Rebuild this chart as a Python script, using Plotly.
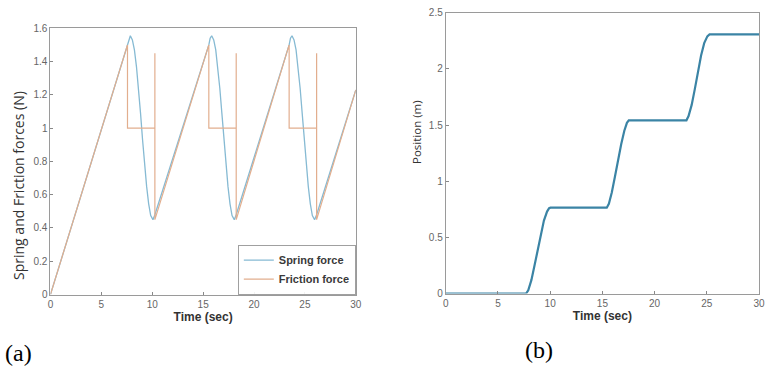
import plotly.graph_objects as go
from plotly.subplots import make_subplots

# ---------------- data ----------------
# (a) friction force: stick ramps, drop to kinetic level, spike at re-stick
friction_t = [0, 7.57, 7.57, 10.26, 10.26, 10.26, 15.56, 15.56, 18.25, 18.25, 18.25,
              23.45, 23.45, 26.15, 26.15, 26.15, 30]
friction_f = [0, 1.50, 1.00, 1.00, 1.45, 0.45, 1.50, 1.00, 1.00, 1.45, 0.45,
              1.50, 1.00, 1.00, 1.45, 0.45, 1.23]

# (a) spring force, sampled along the curve
spring_t = [0, 7.57, 7.70, 7.85, 8.05, 8.25, 8.45, 8.65, 8.85, 9.05, 9.25, 9.45, 9.65, 9.85, 10.07,
            10.26, 15.56, 15.69, 15.84, 16.04, 16.24, 16.44, 16.64, 16.84, 17.04, 17.24, 17.44,
            17.64, 17.84, 18.06, 18.25, 23.45, 23.58, 23.73, 23.93, 24.13, 24.33, 24.53, 24.73,
            24.93, 25.13, 25.33, 25.53, 25.73, 25.95, 26.15, 30]
spring_f = [0, 1.50, 1.54, 1.555, 1.53, 1.47, 1.37, 1.24, 1.09, 0.93, 0.78, 0.65, 0.545, 0.475, 0.45,
            0.48, 1.50, 1.54, 1.555, 1.53, 1.47, 1.37, 1.24, 1.09, 0.93, 0.78, 0.65,
            0.545, 0.475, 0.45, 0.48, 1.50, 1.54, 1.555, 1.53, 1.47, 1.37, 1.24, 1.09,
            0.93, 0.78, 0.65, 0.545, 0.475, 0.45, 0.48, 1.23]

# (b) position
pos_t = [0, 7.69, 7.9, 8.2, 8.5, 8.8, 9.1, 9.4, 9.7, 9.9, 10.03,
         15.42, 15.62, 15.9, 16.2, 16.5, 16.8, 17.1, 17.35, 17.53,
         23.05, 23.25, 23.55, 23.85, 24.15, 24.45, 24.75, 25.05, 25.26, 30]
pos_x = [0, 0, 0.03, 0.12, 0.25, 0.39, 0.53, 0.65, 0.73, 0.76, 0.765,
         0.765, 0.80, 0.90, 1.04, 1.19, 1.33, 1.45, 1.52, 1.543,
         1.543, 1.58, 1.68, 1.82, 1.97, 2.12, 2.23, 2.29, 2.307, 2.307]

x_ticks = [0, 5, 10, 15, 20, 25, 30]
ya_ticks = [0, 0.2, 0.4, 0.6, 0.8, 1, 1.2, 1.4, 1.6]
ya_labels = ["0", "0.2", "0.4", "0.6", "0.8", "1", "1.2", "1.4", "1.6"]
yb_ticks = [0, 0.5, 1, 1.5, 2, 2.5]
yb_labels = ["0", "0.5", "1", "1.5", "2", "2.5"]

# ---------------- figure ----------------
W, H = 768, 379
fig = make_subplots(rows=1, cols=2)

fig.add_trace(go.Scatter(x=spring_t, y=spring_f, mode="lines", name="<b>Spring force</b>",
                         line=dict(color="#86BAD3", width=1.3)), row=1, col=1)
fig.add_trace(go.Scatter(x=friction_t, y=friction_f, mode="lines", name="<b>Friction force</b>",
                         line=dict(color="#E2AE8E", width=1.2)), row=1, col=1)
fig.add_trace(go.Scatter(x=pos_t, y=pos_x, mode="lines", showlegend=False,
                         line=dict(color="#3B84A5", width=2.2)), row=1, col=2)

tickfont = dict(family="Liberation Sans, Arial", size=10, color="#666666")
axcommon = dict(showgrid=False, zeroline=False, showline=True, linecolor="#9A9A9A",
                linewidth=1, mirror=True, ticks="inside", ticklen=3, tickcolor="#888888",
                tickfont=tickfont)

# pixel boxes -> paper domains
def xd(a, b):
    return [a / W, b / W]

def yd(top, bot):
    return [1 - bot / H, 1 - top / H]

xtitle = dict(family="Liberation Sans, Arial", size=12, color="#333333")
fig.update_xaxes(domain=xd(48, 357), range=[0, 30], tickvals=x_ticks, row=1, col=1, **axcommon,
                 title=dict(text="<b>Time (sec)</b>", standoff=4, font=xtitle))
fig.update_yaxes(domain=yd(23, 298), range=[0, 1.6], tickvals=ya_ticks, ticktext=ya_labels,
                 row=1, col=1, **axcommon)
fig.update_xaxes(domain=xd(448, 765), range=[0, 30], tickvals=x_ticks, row=1, col=2, **axcommon,
                 title=dict(text="<b>Time (sec)</b>", standoff=2, font=xtitle))
fig.update_yaxes(domain=yd(7, 297), range=[0, 2.5], tickvals=yb_ticks, ticktext=yb_labels,
                 row=1, col=2, **axcommon)

fig.update_layout(
    width=W, height=H, margin=dict(l=0, r=0, t=0, b=0),
    paper_bgcolor="white", plot_bgcolor="white",
    legend=dict(x=357 / W, xanchor="right", y=1 - 298 / H, yanchor="bottom",
                xref="paper", yref="paper",
                bgcolor="rgba(255,255,255,0.9)", bordercolor="#A0A0A0", borderwidth=1,
                font=dict(family="Liberation Sans, Arial", size=11, color="#3A3A3A"),
                tracegroupgap=0, itemwidth=30),
    annotations=[
        dict(text="Spring and Friction forces (N)", x=15 / W, y=1 - 185 / H,
             xref="paper", yref="paper", textangle=-90, showarrow=False,
             xanchor="center", yanchor="middle",
             font=dict(family="Open Sans, Liberation Sans", size=14, color="#333333")),
        dict(text="Position (m)", x=419 / W, y=1 - 130 / H,
             xref="paper", yref="paper", textangle=-90, showarrow=False,
             xanchor="center", yanchor="middle",
             font=dict(family="Open Sans, Liberation Sans", size=11.5, color="#333333")),
        dict(text="(a)", x=0 / W, y=1 - 358 / H, xref="paper", yref="paper",
             xanchor="left", yanchor="middle", showarrow=False,
             font=dict(family="Liberation Serif, Times New Roman", size=24, color="black")),
        dict(text="(b)", x=542 / W, y=1 - 355 / H, xref="paper", yref="paper",
             xanchor="center", yanchor="middle", showarrow=False,
             font=dict(family="Liberation Serif, Times New Roman", size=24, color="black")),
    ],
)

fig.write_html("out.html")
